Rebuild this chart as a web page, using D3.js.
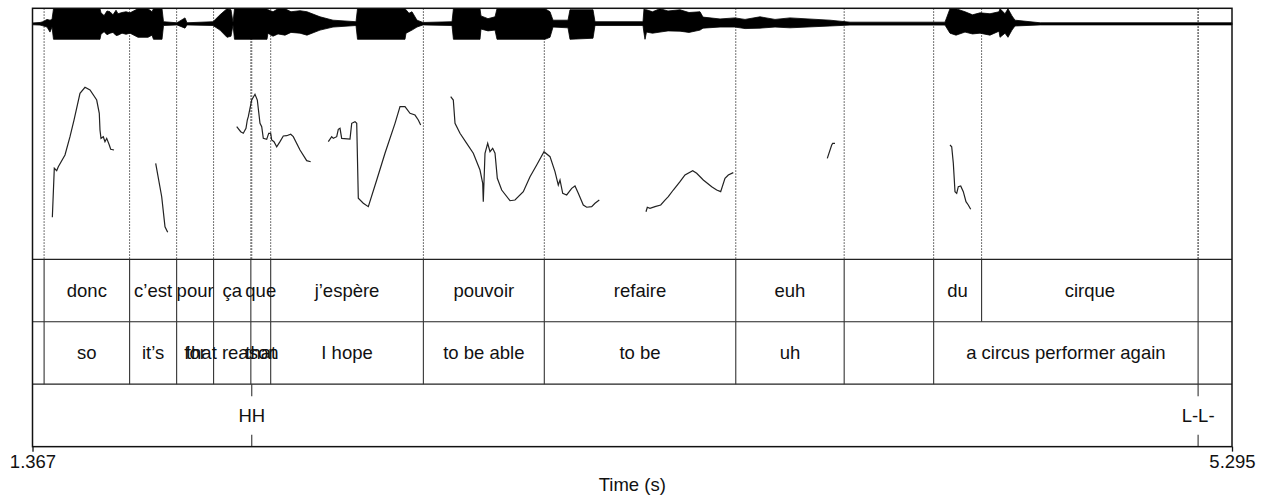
<!DOCTYPE html>
<html>
<head>
<meta charset="utf-8">
<script src="https://cdn.jsdelivr.net/npm/d3@7"></script>
<style>
  body { margin: 0; background: #fff; }
  svg text { font-family: "Liberation Sans", Arial, sans-serif; fill: #111; }
</style>
</head>
<body>
<div id="chart"></div>
<script>
// time range of the picture (s)
const tStart = 1.367, tEnd = 5.295;

// waveform envelope: time, upper and lower amplitude (clipped at +-1)
const waveT = [1.367, 1.3916, 1.4014, 1.4145, 1.4243, 1.4309, 1.4358, 1.588, 1.5913, 1.6014, 1.611, 1.6208, 1.6306, 1.6405, 1.647, 1.6601, 1.6732, 1.6863, 1.7125, 1.7452, 1.7583, 1.7632, 1.7911, 1.796, 1.8402, 1.8664, 1.8729, 1.9581, 1.981, 2.0039, 2.017, 2.0236, 2.0285, 2.1349, 2.1382, 2.1546, 2.1710, 2.1939, 2.2135, 2.243, 2.2659, 2.3085, 2.351, 2.4264, 2.4313, 2.5868, 2.5901, 2.5999, 2.6097, 2.6261, 2.6458, 2.7408, 2.7454, 2.8324, 2.8357, 2.8586, 2.8816, 2.8881, 3.0453, 3.0617, 3.0715, 3.1206, 3.1272, 3.2025, 3.209, 3.3662, 3.3695, 3.3728, 3.3777, 3.3973, 3.4219, 3.4481, 3.4874, 3.5169, 3.5529, 3.5627, 3.6184, 3.6674, 3.7003, 3.7494, 3.7985, 3.8476, 3.9786, 4.0441, 4.3551, 4.3715, 4.3912, 4.4207, 4.4453, 4.4698, 4.5025, 4.532, 4.5353, 4.5517, 4.5614, 4.5745, 4.5843, 4.6669, 5.295];
const waveMax = [0.07, 0.1, 0.15, 0.3, 0.25, 0.3, 1, 1, 0.73, 0.55, 0.85, 0.8, 0.6, 0.9, 0.67, 0.75, 0.8, 0.73, 1, 1, 0.8, 1, 1, 0.15, 0.08, 0.4, 0.08, 0.15, 0.6, 1, 0.93, 0.1, 1, 1, 0.93, 0.8, 1, 1, 0.8, 0.87, 0.8, 0.47, 0.25, 0.15, 1, 1, 0.93, 0.7, 0.8, 0.25, 0.1, 0.15, 1, 1, 0.53, 0.35, 0.47, 1, 1, 0.8, 0.25, 0.25, 0.93, 0.93, 0.15, 0.15, 1, 0.93, 0.93, 0.8, 1, 0.85, 0.93, 0.75, 0.8, 0.45, 0.33, 0.4, 0.3, 0.47, 0.3, 0.4, 0.25, 0.12, 0.12, 1, 1, 0.8, 0.6, 0.73, 0.67, 0.8, 1, 0.67, 1, 0.53, 0.25, 0.08, 0.08];
const waveMin = [-0.05, -0.07, -0.12, -0.2, -0.53, -0.2, -1, -1, -0.67, -0.5, -0.7, -0.6, -0.55, -0.75, -0.73, -0.6, -0.67, -0.6, -0.87, -0.87, -0.73, -1, -1, -0.1, -0.06, -0.27, -0.06, -0.1, -0.4, -0.87, -0.8, -0.06, -1, -1, -0.6, -0.8, -0.65, -0.73, -0.55, -0.6, -0.73, -0.4, -0.2, -0.1, -1, -1, -0.6, -0.5, -0.4, -0.2, -0.06, -0.1, -1, -1, -0.33, -0.45, -0.4, -1, -1, -0.87, -0.2, -0.25, -1, -0.93, -0.1, -0.1, -0.6, -1, -0.53, -0.6, -0.53, -0.45, -0.47, -0.55, -0.4, -0.27, -0.2, -0.2, -0.3, -0.27, -0.2, -0.25, -0.13, -0.07, -0.07, -0.6, -0.73, -0.53, -0.65, -0.6, -0.73, -0.47, -0.87, -0.6, -0.87, -0.4, -0.13, -0.06, -0.06];

// pitch contour (Hz), one array per voiced stretch
const pitchT = [
  [1.432, 1.4384, 1.4462, 1.4515, 1.4734, 1.4898, 1.5029, 1.5225, 1.5389, 1.5553, 1.5772, 1.5857, 1.588, 1.5913, 1.5988, 1.6044, 1.610, 1.6185, 1.6231, 1.6339],
  [1.7704, 1.7901, 1.8009, 1.8097],
  [2.0357, 2.0488, 2.0573, 2.0661, 2.0704, 2.0737, 2.0848, 2.0956, 2.1032, 2.112, 2.1176, 2.1228, 2.1339, 2.1405, 2.147, 2.1503, 2.1578, 2.1667, 2.1775, 2.1883, 2.1994, 2.2125, 2.221, 2.243, 2.2649, 2.278],
  [2.3357, 2.3468, 2.352, 2.3632, 2.3684, 2.374, 2.3795, 2.4067, 2.4123, 2.4231, 2.4287, 2.4339, 2.4503, 2.4667, 2.4942, 2.5213, 2.5541, 2.5705, 2.5868, 2.6032, 2.6196, 2.6304, 2.6382],
  [2.7365, 2.745, 2.7506, 2.7669, 2.7889, 2.8105, 2.8324, 2.8413, 2.8432, 2.8488, 2.8576, 2.8652, 2.874, 2.8816, 2.8891, 2.9035, 2.9307, 2.947, 2.9742, 2.9962, 3.0181, 3.042, 3.0617, 3.078, 3.0888, 3.0944, 3.1033, 3.1163, 3.1327, 3.1435, 3.1543, 3.1707, 3.1818, 3.1982, 3.209, 3.2231],
  [3.376, 3.3803, 3.3891, 3.4055, 3.4242, 3.4382, 3.4491, 3.4654, 3.4874, 3.5037, 3.529, 3.542, 3.5637, 3.5912, 3.6075, 3.6206, 3.6347, 3.6455, 3.6619],
  [3.9697, 3.9841, 3.9874, 3.9949],
  [4.3715, 4.3771, 4.3824, 4.3879, 4.3935, 4.3987, 4.4066, 4.4151, 4.4239, 4.4314, 4.4393]
];
const pitchHz = [
  [118.1, 168.4, 165.9, 170, 182, 200.8, 217.9, 245.3, 251.5, 248.7, 238.4, 224.8, 207.7, 199.1, 200.8, 195.7, 199.1, 192.3, 187.9, 187.1],
  [173.5, 139.2, 108.4, 102.7],
  [211, 205.9, 204.3, 209.4, 217.9, 221.3, 238.4, 244.3, 238.4, 214.5, 211, 199.1, 198.1, 204.3, 204.3, 197.4, 195.7, 190.5, 195.7, 201.5, 201.8, 203.3, 200.8, 187.1, 176.2, 175.1],
  [195.7, 200.8, 199.1, 200.8, 208.4, 209.4, 199.1, 198.4, 214.5, 216.2, 214.5, 137.6, 132.5, 129, 156.4, 183.8, 214.5, 231.6, 231.6, 224.8, 223, 217.9, 212.8],
  [241.8, 238.4, 214.5, 204.3, 194, 183.8, 166.6, 153, 134.1, 183.8, 194, 185.4, 188.9, 183.8, 158.1, 146.1, 135.1, 135.8, 144.4, 159.7, 171.8, 185.4, 180.3, 164.9, 151.2, 156.4, 142.7, 141, 147.8, 150.2, 142.7, 130.7, 128.4, 129, 132.5, 135.8],
  [123.8, 128.4, 127.3, 129, 130.7, 135.8, 139.2, 146.1, 154.6, 161.5, 165.9, 163.2, 156.4, 149.5, 146.1, 144.4, 158.1, 161.5, 163.9],
  [178.6, 192.3, 194, 194],
  [192.3, 190.5, 173.5, 144.4, 142.7, 149.5, 150.2, 144.4, 134.1, 130.7, 126.3]
];

// tier 1: French words
const wordBounds = [1.367, 1.405, 1.685, 1.839, 1.960, 2.082, 2.147, 2.647, 3.043, 3.670, 4.025, 4.318, 4.475, 5.184, 5.295];
const wordLabels = ["", "donc", "c\u2019est", "pour", "ça", "que", "j\u2019espère", "pouvoir", "refaire", "euh", "", "du", "cirque", ""];

// tier 2: English gloss
const glossBounds = [1.367, 1.405, 1.685, 1.839, 1.960, 2.082, 2.147, 2.647, 3.043, 3.670, 4.025, 4.318, 5.184, 5.295];
const glossLabels = ["", "so", "it\u2019s", "for", "that reason", "that", "I hope", "to be able", "to be", "uh", "", "a circus performer again", ""];

// tier 3: tones (points)
const toneTimes = [2.085, 5.184];
const toneLabels = ["HH", "L-L-"];

const W = 1264, H = 496;
const left = 32.5, right = 1232;
const waveTop = 8.7, waveBottom = 39.3;
const pitchTop = 40, tierTop = 259.3, tierH = 62.45;
const bottom = tierTop + 3 * tierH;

const svg = d3.select("#chart").append("svg")
    .attr("width", W).attr("height", H);

const x = d3.scaleLinear().domain([tStart, tEnd]).range([left, right]);
const yWave = d3.scaleLinear().domain([-1, 1]).range([waveBottom, waveTop]);
const yPitch = d3.scaleLinear().domain([75, 300]).range([tierTop, pitchTop]);

// dotted boundary lines through the sound part
const allMarks = wordBounds.slice(1, -1).concat(toneTimes);
svg.append("g").selectAll("line").data(allMarks).join("line")
    .attr("x1", d => x(d)).attr("x2", d => x(d))
    .attr("y1", 8.3).attr("y2", tierTop)
    .attr("stroke", "#444").attr("stroke-width", 1)
    .attr("stroke-dasharray", "1.5,1.5");

// waveform
const wave = waveT.map((t, i) => ({ t: t, hi: waveMax[i], lo: waveMin[i] }));
svg.append("path").datum(wave)
    .attr("d", d3.area().x(d => x(d.t)).y0(d => yWave(d.lo)).y1(d => yWave(d.hi)))
    .attr("fill", "#000").attr("stroke", "#000").attr("stroke-width", 0.8);

// pitch
const pitchLine = d3.line().x(d => x(d[0])).y(d => yPitch(d[1]));
svg.append("g").selectAll("path").data(pitchT.map((ts, k) => ts.map((t, i) => [t, pitchHz[k][i]])))
    .join("path")
    .attr("d", pitchLine)
    .attr("fill", "none").attr("stroke", "#222").attr("stroke-width", 1.2);

// tier horizontal lines
svg.append("g").selectAll("line").data([0, 1, 2]).join("line")
    .attr("x1", left).attr("x2", right)
    .attr("y1", d => tierTop + d * tierH).attr("y2", d => tierTop + d * tierH)
    .attr("stroke", "#222").attr("stroke-width", 1.2);

// interval tiers
function intervalTier(bounds, labels, row) {
    const y0 = tierTop + row * tierH;
    const g = svg.append("g");
    g.selectAll("line").data(bounds.slice(1, -1)).join("line")
        .attr("x1", d => x(d)).attr("x2", d => x(d))
        .attr("y1", y0).attr("y2", y0 + tierH)
        .attr("stroke", "#333").attr("stroke-width", 1.1);
    g.selectAll("text").data(labels).join("text")
        .attr("x", (d, i) => (x(bounds[i]) + x(bounds[i + 1])) / 2)
        .attr("y", y0 + tierH / 2 + 6.3)
        .attr("text-anchor", "middle")
        .attr("font-size", 18.5)
        .text(d => d);
}
intervalTier(wordBounds, wordLabels, 0);
intervalTier(glossBounds, glossLabels, 1);

// point tier
const y3 = tierTop + 2 * tierH;
const tones = svg.append("g");
tones.selectAll("line.top").data(toneTimes).join("line")
    .attr("class", "top")
    .attr("x1", d => x(d)).attr("x2", d => x(d))
    .attr("y1", y3).attr("y2", y3 + 12)
    .attr("stroke", "#333").attr("stroke-width", 1.1);
tones.selectAll("line.bot").data(toneTimes).join("line")
    .attr("class", "bot")
    .attr("x1", d => x(d)).attr("x2", d => x(d))
    .attr("y1", bottom - 12).attr("y2", bottom)
    .attr("stroke", "#333").attr("stroke-width", 1.1);
tones.selectAll("text").data(toneLabels).join("text")
    .attr("x", (d, i) => x(toneTimes[i]))
    .attr("y", y3 + tierH / 2 + 6.3)
    .attr("text-anchor", "middle")
    .attr("font-size", 18.5)
    .text(d => d);

// outer frame
svg.append("rect")
    .attr("x", left).attr("y", 8.3)
    .attr("width", right - left).attr("height", bottom - 8.3)
    .attr("fill", "none").attr("stroke", "#111").attr("stroke-width", 1.5);

// time axis
const axis = svg.append("g")
    .attr("transform", `translate(0,${bottom})`)
    .call(d3.axisBottom(x).tickValues([tStart, tEnd]).tickFormat(d3.format(".3f")).tickSize(5).tickPadding(3));
axis.select(".domain").remove();
axis.selectAll("line").attr("stroke", "#111").attr("stroke-width", 1.3);
axis.selectAll("text").attr("font-size", 18.5).attr("font-family", "Liberation Sans, Arial, sans-serif").attr("fill", "#111");

svg.append("text")
    .attr("x", (left + right) / 2)
    .attr("y", 491)
    .attr("text-anchor", "middle")
    .attr("font-size", 18.5)
    .text("Time (s)");
</script>
</body>
</html>
